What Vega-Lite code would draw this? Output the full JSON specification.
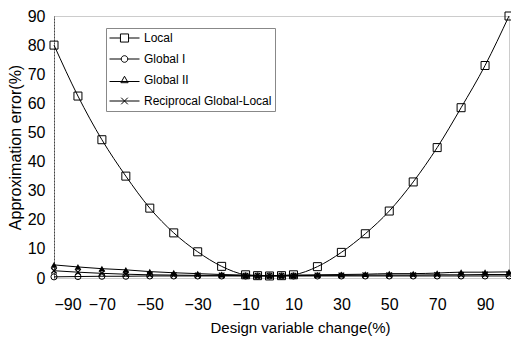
{
  "$schema": "https://vega.github.io/schema/vega-lite/v6.json",
  "autosize": {"type": "none"},
  "padding": {"left": 54, "top": 16, "right": 2, "bottom": 63},
  "width": 455,
  "height": 262,
  "background": "white",
  "config": {
    "view": {"stroke": "#999", "strokeDash": [1, 1], "strokeWidth": 1},
    "axis": {
      "labelFont": "Liberation Sans", "titleFont": "Liberation Sans",
      "labelColor": "black", "titleColor": "black", "titleFontWeight": "normal",
      "grid": false, "ticks": false
    }
  },
  "datasets": {
    "pts": [
      {"x": -90, "s": "Local", "y": 80}, {"x": -80, "s": "Local", "y": 62.5}, {"x": -70, "s": "Local", "y": 47.5},
      {"x": -60, "s": "Local", "y": 35}, {"x": -50, "s": "Local", "y": 24}, {"x": -40, "s": "Local", "y": 15.5},
      {"x": -30, "s": "Local", "y": 9}, {"x": -20, "s": "Local", "y": 4}, {"x": -10, "s": "Local", "y": 1.1},
      {"x": -5, "s": "Local", "y": 0.8}, {"x": 0, "s": "Local", "y": 0.7}, {"x": 5, "s": "Local", "y": 0.8},
      {"x": 10, "s": "Local", "y": 1.1}, {"x": 20, "s": "Local", "y": 3.9}, {"x": 30, "s": "Local", "y": 8.8},
      {"x": 40, "s": "Local", "y": 15.2}, {"x": 50, "s": "Local", "y": 23}, {"x": 60, "s": "Local", "y": 33},
      {"x": 70, "s": "Local", "y": 44.8}, {"x": 80, "s": "Local", "y": 58.5}, {"x": 90, "s": "Local", "y": 73},
      {"x": 100, "s": "Local", "y": 90},

      {"x": -90, "s": "Global I", "y": 0.4}, {"x": -80, "s": "Global I", "y": 0.5}, {"x": -70, "s": "Global I", "y": 0.6},
      {"x": -60, "s": "Global I", "y": 0.6}, {"x": -50, "s": "Global I", "y": 0.7}, {"x": -40, "s": "Global I", "y": 0.7},
      {"x": -30, "s": "Global I", "y": 0.7}, {"x": -20, "s": "Global I", "y": 0.7}, {"x": -10, "s": "Global I", "y": 0.7},
      {"x": -5, "s": "Global I", "y": 0.7}, {"x": 0, "s": "Global I", "y": 0.7}, {"x": 5, "s": "Global I", "y": 0.7},
      {"x": 10, "s": "Global I", "y": 0.7}, {"x": 20, "s": "Global I", "y": 0.7}, {"x": 30, "s": "Global I", "y": 0.7},
      {"x": 40, "s": "Global I", "y": 0.7}, {"x": 50, "s": "Global I", "y": 0.7}, {"x": 60, "s": "Global I", "y": 0.7},
      {"x": 70, "s": "Global I", "y": 0.7}, {"x": 80, "s": "Global I", "y": 0.7}, {"x": 90, "s": "Global I", "y": 0.7},
      {"x": 100, "s": "Global I", "y": 0.7},

      {"x": -90, "s": "Global II", "y": 4.5}, {"x": -80, "s": "Global II", "y": 3.8}, {"x": -70, "s": "Global II", "y": 3.2},
      {"x": -60, "s": "Global II", "y": 2.8}, {"x": -50, "s": "Global II", "y": 2.2}, {"x": -40, "s": "Global II", "y": 1.8},
      {"x": -30, "s": "Global II", "y": 1.5}, {"x": -20, "s": "Global II", "y": 1.2}, {"x": -10, "s": "Global II", "y": 1.0},
      {"x": -5, "s": "Global II", "y": 0.9}, {"x": 0, "s": "Global II", "y": 0.8}, {"x": 5, "s": "Global II", "y": 0.9},
      {"x": 10, "s": "Global II", "y": 1.0}, {"x": 20, "s": "Global II", "y": 1.1}, {"x": 30, "s": "Global II", "y": 1.2},
      {"x": 40, "s": "Global II", "y": 1.3}, {"x": 50, "s": "Global II", "y": 1.5}, {"x": 60, "s": "Global II", "y": 1.5},
      {"x": 70, "s": "Global II", "y": 1.7}, {"x": 80, "s": "Global II", "y": 2.0}, {"x": 90, "s": "Global II", "y": 2.0},
      {"x": 100, "s": "Global II", "y": 2.1},

      {"x": -90, "s": "Reciprocal Global-Local", "y": 2.5}, {"x": -80, "s": "Reciprocal Global-Local", "y": 2.0},
      {"x": -70, "s": "Reciprocal Global-Local", "y": 1.6}, {"x": -60, "s": "Reciprocal Global-Local", "y": 1.3},
      {"x": -50, "s": "Reciprocal Global-Local", "y": 1.1}, {"x": -40, "s": "Reciprocal Global-Local", "y": 1.0},
      {"x": -30, "s": "Reciprocal Global-Local", "y": 0.9}, {"x": -20, "s": "Reciprocal Global-Local", "y": 0.9},
      {"x": -10, "s": "Reciprocal Global-Local", "y": 0.8}, {"x": -5, "s": "Reciprocal Global-Local", "y": 0.8},
      {"x": 0, "s": "Reciprocal Global-Local", "y": 0.8}, {"x": 5, "s": "Reciprocal Global-Local", "y": 0.8},
      {"x": 10, "s": "Reciprocal Global-Local", "y": 0.8}, {"x": 20, "s": "Reciprocal Global-Local", "y": 0.9},
      {"x": 30, "s": "Reciprocal Global-Local", "y": 0.9}, {"x": 40, "s": "Reciprocal Global-Local", "y": 1.0},
      {"x": 50, "s": "Reciprocal Global-Local", "y": 1.0}, {"x": 60, "s": "Reciprocal Global-Local", "y": 1.0},
      {"x": 70, "s": "Reciprocal Global-Local", "y": 1.1}, {"x": 80, "s": "Reciprocal Global-Local", "y": 1.1},
      {"x": 90, "s": "Reciprocal Global-Local", "y": 1.2}, {"x": 100, "s": "Reciprocal Global-Local", "y": 1.2}
    ]
  },
  "data": {"name": "pts"},
  "encoding": {
    "x": {
      "field": "x", "type": "quantitative",
      "scale": {"domain": [-90, 100], "nice": false, "zero": false},
      "axis": {
        "values": [-90, -70, -50, -30, -10, 10, 30, 50, 70, 90],
        "labelFontSize": 16, "labelPadding": 18, "domain": false,
        "title": "Design variable change(%)", "titleFontSize": 15, "titlePadding": 8, "titleX": 246
      }
    },
    "y": {
      "field": "y", "type": "quantitative",
      "scale": {"domain": [0, 90], "nice": false},
      "axis": {
        "values": [0, 10, 20, 30, 40, 50, 60, 70, 80, 90],
        "labelFontSize": 16, "labelPadding": 9, "domainColor": "#444", "domainDash": [2, 1],
        "title": "Approximation error(%)", "titleFontSize": 16, "titlePadding": 4, "titleY": 131
      }
    }
  },
  "layer": [
    {
      "mark": {"type": "line", "color": "black", "strokeWidth": 1, "interpolate": "monotone"},
      "encoding": {"detail": {"field": "s"}}
    },
    {
      "transform": [{"filter": "datum.s == 'Local'"}],
      "mark": {"type": "point", "shape": "square", "size": 64, "filled": false, "color": "black", "strokeWidth": 1, "opacity": 1}
    },
    {
      "transform": [{"filter": "datum.s == 'Global I'"}],
      "mark": {"type": "point", "shape": "circle", "size": 38, "filled": false, "color": "black", "strokeWidth": 1, "opacity": 1}
    },
    {
      "transform": [{"filter": "datum.s == 'Global II'"}],
      "mark": {"type": "point", "shape": "triangle-up", "size": 45, "filled": true, "color": "black", "opacity": 1}
    },
    {
      "transform": [{"filter": "datum.s == 'Reciprocal Global-Local'"}],
      "mark": {"type": "point", "shape": "M-1,-1L1,1M-1,1L1,-1", "size": 30, "filled": false, "color": "black", "strokeWidth": 1.2, "opacity": 1}
    },
    {
      "transform": [{"filter": "datum.x > 1000"}],
      "mark": {"type": "point", "filled": false, "color": "black", "strokeWidth": 1, "opacity": 1},
      "encoding": {
        "shape": {
          "field": "s", "type": "nominal",
          "scale": {
            "domain": ["Local", "Global I", "Global II", "Reciprocal Global-Local"],
            "range": [
              "M-1,0H-0.27M0.27,0H1M-0.27,-0.27H0.27V0.27H-0.27Z",
              "M-1,0H-0.22M0.22,0H1M-0.22,0A0.22,0.22 0 1,0 0.22,0A0.22,0.22 0 1,0 -0.22,0",
              "M-1,0.1H1M0,-0.25L0.24,0.18H-0.24Z",
              "M-1,0H1M-0.22,-0.22L0.22,0.22M-0.22,0.22L0.22,-0.22"
            ]
          },
          "legend": {
            "orient": "none", "legendX": 52, "legendY": 12, "title": null,
            "symbolSize": 900, "symbolStrokeColor": "black", "symbolStrokeWidth": 1,
            "symbolFillColor": "transparent",
            "labelFont": "Liberation Sans", "labelFontSize": 12, "labelColor": "black", "labelOffset": 4,
            "clipHeight": 14, "rowPadding": 7, "padding": 3, "strokeColor": "#888",
            "encode": {"legend": {"update": {"strokeDash": {"value": [2, 2]}}}}
          }
        }
      }
    }
  ]
}
